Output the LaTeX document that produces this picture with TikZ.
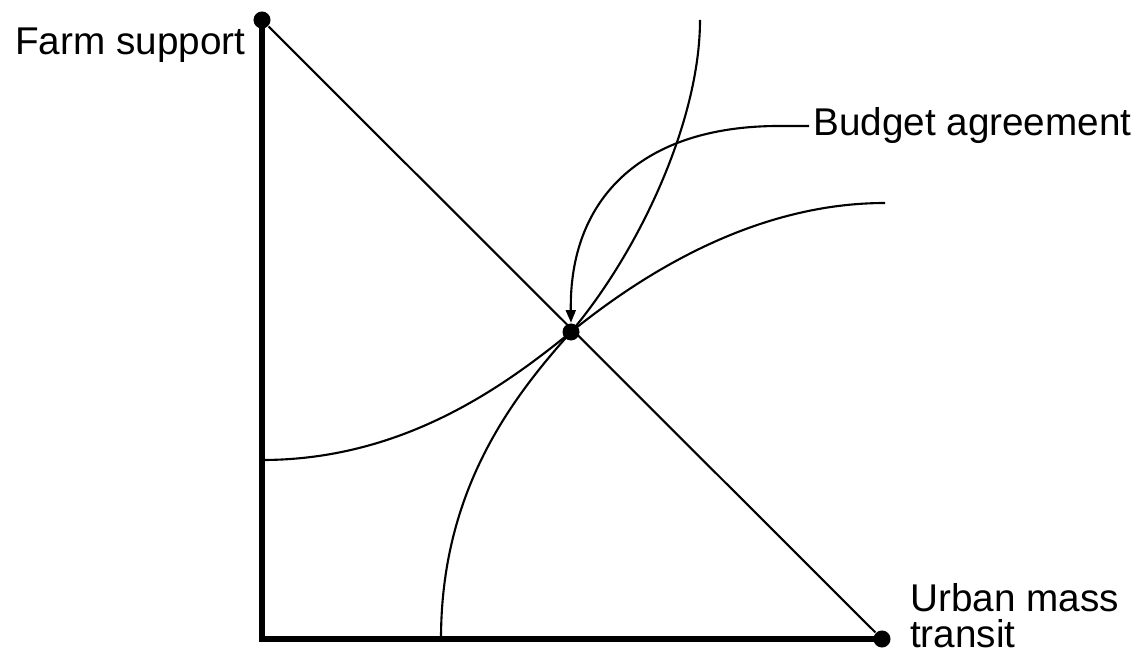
\documentclass[tikz,border=0pt]{standalone}
\usepackage{fontspec}
\setmainfont{Liberation Sans}
\usetikzlibrary{arrows.meta}

\begin{document}
\begin{tikzpicture}[
    x=0.01cm,
    y=-0.01cm,
    every node/.style={font=\fontsize{11}{10.2}\selectfont},
    dot/.style={
        circle,
        fill=black,
        inner sep=0pt,
        minimum size=0.17cm
    },
    axis/.style={
        line width=1.5pt,
        black
    },
    curve/.style={
        line width=0.6pt,
        black
    },
    arrow/.style={
        -{Triangle[length=3.6pt, width=2.8pt]},
        line width=0.6pt,
        black
    },
    axislabel/.style={
        inner sep=1pt,
        align=left
    }
]
\useasboundingbox (0,0) rectangle (1139,652);

% ============================================
% Axes and budget line
% ============================================
\node[dot] (fs) at (262,20) {};
\node[dot] (um) at (882,639) {};
\coordinate (origin) at (262,639);

\draw[axis] (fs.center) -- (origin) -- (um.center);
\draw[curve] (fs) -- (um);

\node[axislabel, anchor=base west] (fslab) at (11,55) {Farm support};
\node[axislabel, anchor=north west] (umlab) at (906,579) {Urban mass\\transit};

% ============================================
% Indifference curves through the agreement
% ============================================
\node[dot] (eq) at (571,332) {};

\coordinate (steepbot) at (441,639);
\coordinate (steeptop) at (700,20);
\coordinate (flatleft) at (262,460);
\coordinate (flatright) at (885,203);

\draw[curve] (steepbot) .. controls (441,490) and (512,398) .. (eq.center)
    .. controls (640,250) and (700,120) .. (steeptop);
\draw[curve] (flatleft) .. controls (400,460) and (500,390) .. (eq.center)
    .. controls (650,268) and (760,203) .. (flatright);

% Label
\node[axislabel, anchor=west] (ba) at (809,126) {Budget agreement};
\draw[arrow] (ba.west) -- ++(-30,0) .. controls (640,126) and (569,200) .. (eq.north);

\end{tikzpicture}
\end{document}
